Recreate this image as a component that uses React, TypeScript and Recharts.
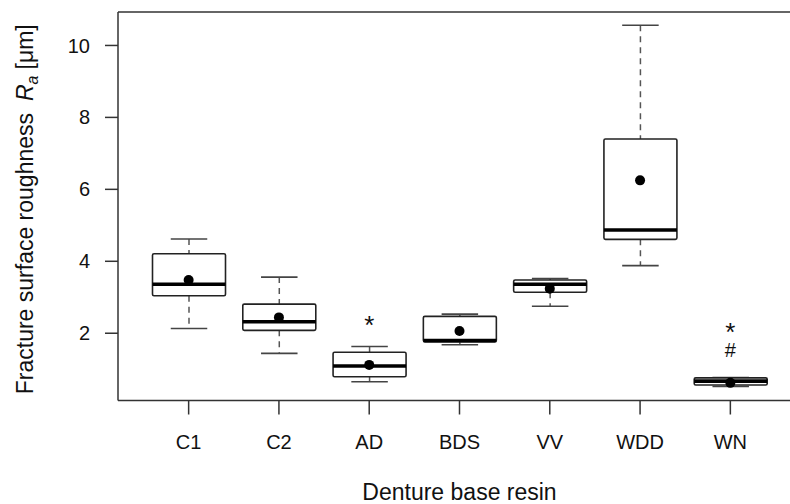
import React from 'react';
import { ComposedChart, Bar, Line, XAxis, YAxis } from 'recharts';

const categories = ['C1', 'C2', 'AD', 'BDS', 'VV', 'WDD', 'WN'];
const whiskerLow = [2.13, 1.44, 0.65, 1.68, 2.75, 3.88, 0.52];
const quartile1 = [3.04, 2.08, 0.79, 1.76, 3.14, 4.61, 0.56];
const medians = [3.36, 2.32, 1.09, 1.8, 3.36, 4.87, 0.67];
const quartile3 = [4.21, 2.81, 1.47, 2.47, 3.48, 7.4, 0.76];
const whiskerHigh = [4.62, 3.56, 1.63, 2.53, 3.52, 10.56, 0.77];
const means = [3.48, 2.44, 1.12, 2.06, 3.24, 6.25, 0.62];
const starMarks: (number | null)[] = [null, null, 2.39, null, null, null, 2.2];
const hashMarks: (number | null)[] = [null, null, null, null, null, null, 1.53];
const yTicks = [2, 4, 6, 8, 10];
const yDomain: [number, number] = [0.13, 10.93];

const data = categories.map((name, i) => ({
  name,
  low: whiskerLow[i],
  q1: quartile1[i],
  median: medians[i],
  q3: quartile3[i],
  high: whiskerHigh[i],
  mean: means[i],
  star: starMarks[i],
  hash: hashMarks[i],
}));

const FONT = '"Liberation Sans", Arial, Helvetica, sans-serif';

const BoxShape = (props: any) => {
  const { x, y, width, height, payload } = props;
  if (x == null || y == null || !payload) return null;
  const top = Math.min(y, y + height);
  const bot = Math.max(y, y + height);
  const lo = payload.low;
  const hi = payload.high;
  const py = (v: number) => bot - ((v - lo) / (hi - lo)) * (bot - top);
  const cx = x + width / 2;
  const cap = width / 4;
  const yQ1 = py(payload.q1);
  const yQ3 = py(payload.q3);
  const yMed = py(payload.median);
  return (
    <g>
      <line x1={cx} x2={cx} y1={top} y2={yQ3} stroke="#555" strokeWidth={1.5} strokeDasharray="6 5" />
      <line x1={cx} x2={cx} y1={yQ1} y2={bot} stroke="#555" strokeWidth={1.5} strokeDasharray="6 5" />
      <line x1={cx - cap} x2={cx + cap} y1={top} y2={top} stroke="#444" strokeWidth={1.6} />
      <line x1={cx - cap} x2={cx + cap} y1={bot} y2={bot} stroke="#444" strokeWidth={1.6} />
      <rect x={x} y={yQ3} width={width} height={yQ1 - yQ3} fill="#fff" stroke="#222" strokeWidth={1.6} rx={1.5} />
      <line x1={x} x2={x + width} y1={yMed} y2={yMed} stroke="#000" strokeWidth={3.6} />
    </g>
  );
};

const markRenderer = (glyph: string, size: number, shift: number) => (p: any) => {
  if (p == null || p.value == null || p.cy == null || Number.isNaN(p.cy)) return null;
  return (
    <text key={`${glyph}-${p.index}`} x={p.cx} y={p.cy + shift} textAnchor="middle" fontSize={size} fill="#111" fontFamily={FONT}>
      {glyph}
    </text>
  );
};

const YLabel = (p: any) => {
  const vb = p.viewBox || {};
  const cx = (vb.x || 0) + 33;
  const cy = (vb.y || 0) + (vb.height || 0) / 2 + 3;
  return (
    <text transform={`translate(${cx},${cy}) rotate(-90)`} textAnchor="middle" fontSize={23} fill="#111" fontFamily={FONT}>
      <tspan>Fracture surface roughness</tspan>
      <tspan dx={12} fontStyle="italic">R</tspan>
      <tspan dy={5} fontStyle="italic" fontSize={16}>a</tspan>
      <tspan dy={-5} dx={6}>[μm]</tspan>
    </text>
  );
};

export default function App() {
  return (
    <div style={{ position: 'fixed', left: 0, top: 0, width: 790, height: 504, overflow: 'hidden', background: '#fff', fontFamily: FONT }}>
      <ComposedChart width={820} height={504} data={data} margin={{ top: 11, right: 19, bottom: 0, left: 0 }}>
        <XAxis
          xAxisId="top"
          orientation="top"
          dataKey="name"
          height={1}
          tick={false}
          tickLine={false}
          axisLine={{ stroke: '#333', strokeWidth: 1.5 }}
        />
        <XAxis
          dataKey="name"
          type="category"
          interval={0}
          padding={{ left: 25.5, right: 25.5 }}
          height={103.5}
          tickSize={14}
          tickMargin={20}
          axisLine={{ stroke: '#333', strokeWidth: 1.5 }}
          tickLine={{ stroke: '#333', strokeWidth: 1.5 }}
          tick={{ fontSize: 20, fill: '#111', fontFamily: FONT }}
          label={{ value: 'Denture base resin', position: 'insideBottom', offset: 4, fontSize: 23, fill: '#111', fontFamily: FONT }}
        />
        <YAxis
          type="number"
          width={118}
          domain={yDomain}
          ticks={yTicks}
          allowDataOverflow
          tickSize={13}
          tickMargin={15}
          axisLine={{ stroke: '#333', strokeWidth: 1.5 }}
          tickLine={{ stroke: '#333', strokeWidth: 1.5 }}
          tick={{ fontSize: 20, fill: '#111', fontFamily: FONT }}
          label={(p: any) => <YLabel {...p} />}
        />
        <Bar dataKey={(d: any) => [d.low, d.high]} barSize={73} shape={<BoxShape />} isAnimationActive={false} />
        <Line dataKey="mean" stroke="none" dot={{ r: 5, fill: '#000', stroke: 'none' }} activeDot={false} isAnimationActive={false} />
        <Line dataKey="star" stroke="none" dot={markRenderer('*', 26, 15)} activeDot={false} isAnimationActive={false} />
        <Line dataKey="hash" stroke="none" dot={markRenderer('#', 20, 7)} activeDot={false} isAnimationActive={false} />
      </ComposedChart>
    </div>
  );
}
